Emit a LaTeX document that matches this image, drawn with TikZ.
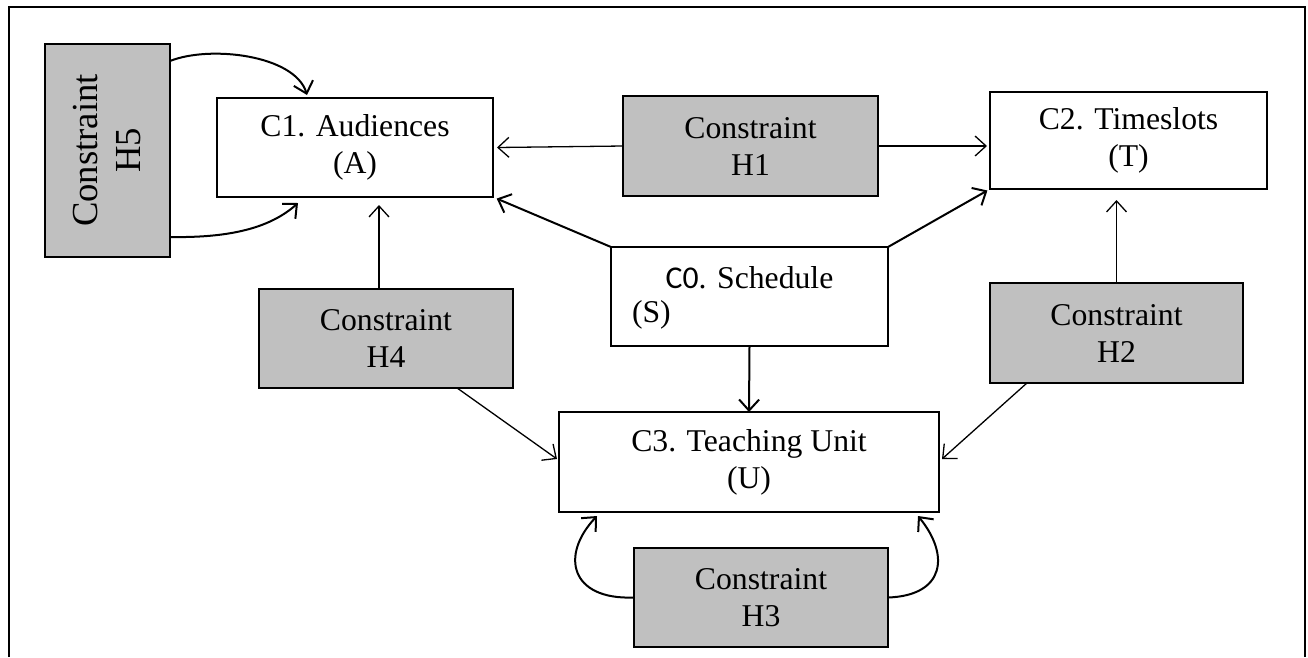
\documentclass[tikz,border=0pt]{standalone}
\usepackage{fontspec}
\setmainfont{Liberation Serif}
\newfontfamily\cosans{Carlito}
\usetikzlibrary{arrows.meta,calc}
\definecolor{boxgray}{RGB}{192,192,192}
\begin{document}
\begin{tikzpicture}[x=1pt,y=-1pt,
  every node/.style={inner sep=0pt,outer sep=0pt},
  txt/.style={font=\fontsize{31.7pt}{37pt}\selectfont,align=center},
  cbox/.style={txt,draw,line width=1.8pt,fill=white},
  hbox/.style={txt,draw,line width=1.8pt,fill=boxgray},
  arr/.style={line width=1.3pt,-{Straight Barb[length=11pt,width=20pt]}},
  arrthick/.style={line width=2pt,-{Straight Barb[length=11pt,width=20pt]}}]
\useasboundingbox (0,0) rectangle (1308,657);
\fill[white] (0,0) rectangle (1308,657);
\draw[line width=2pt] (9,657) -- (9,7) -- (1305,7) -- (1305,657);

\node[cbox,minimum width=276pt,minimum height=99pt] (c1) at (355,147.5) {C1. Audiences\\(A)};
\node[cbox,minimum width=277pt,minimum height=97pt] (c2) at (1128.5,140.5) {C2. Timeslots\\(T)};
\node[cbox,minimum width=277pt,minimum height=99pt] (c0) at (749.5,296.5) {};
\node[txt,anchor=base] (c0a) at (749.5,288) {{\cosans C0}. Schedule};
\node[txt,anchor=base west] (c0b) at (632,322) {(S)};
\node[cbox,minimum width=380pt,minimum height=100pt] (c3) at (749,462) {C3. Teaching Unit\\(U)};
\node[hbox,minimum width=255pt,minimum height=100pt] (h1) at (750.5,146) {Constraint\\H1};
\node[hbox,minimum width=253pt,minimum height=100pt] (h2) at (1116.5,333) {Constraint\\H2};
\node[hbox,minimum width=254pt,minimum height=99pt] (h3) at (761,597.5) {Constraint\\H3};
\node[hbox,minimum width=254pt,minimum height=99pt] (h4) at (386,338.5) {Constraint\\H4};
\node[hbox,minimum width=125pt,minimum height=213pt] (h5) at (107.5,150.5) {};
\node[rotate=90,align=center,font=\fontsize{36.7pt}{43pt}\selectfont] (h5t) at (h5.center) {Constraint\\H5};

\draw[arr] (h1.west) -- ([xshift=4pt]c1.east);
\draw[arr] (h1.east) -- ([xshift=-3pt]c2.west |- h1.east);
\draw[arrthick,shorten >=4pt] (c0.north west) -- (c1.south east);
\draw[arrthick,shorten >=3pt] (c0.north east) -- (c2.south west);
\draw[arrthick] (c0.south) -- (c3.north);
\draw[arr] ([xshift=-7pt]h4.north) -- ([xshift=-7pt,yshift=-8pt]h4.north |- c1.south);
\draw[arr] (h2.north) -- ([yshift=-11pt]h2.north |- c2.south);
\draw[arr] ($(h4.south west)!0.78!(h4.south east)$) -- ([xshift=-2pt,yshift=3pt]c3.west);
\draw[arr] ($(h2.south west)!0.146!(h2.south east)$) -- ([xshift=3pt,yshift=3pt]c3.east);
\draw[arrthick] (h3.west) .. controls +(-64,2.5) and +(-37,39) .. ([xshift=38pt,yshift=-4pt]c3.south west);
\draw[arrthick] (h3.east) .. controls +(57,-2) and +(32,39) .. ([xshift=-21pt,yshift=-4pt]c3.south east);
\draw[arrthick] ([yshift=-17pt]h5.north east) .. controls +(40,-16) and +(-12,-40) .. ([xshift=90pt,yshift=3pt]c1.north west);
\draw[arrthick] ([yshift=20pt]h5.south east) .. controls +(60,1) and +(-28,25) .. ([xshift=81pt,yshift=-6pt]c1.south west);
\end{tikzpicture}
\end{document}
